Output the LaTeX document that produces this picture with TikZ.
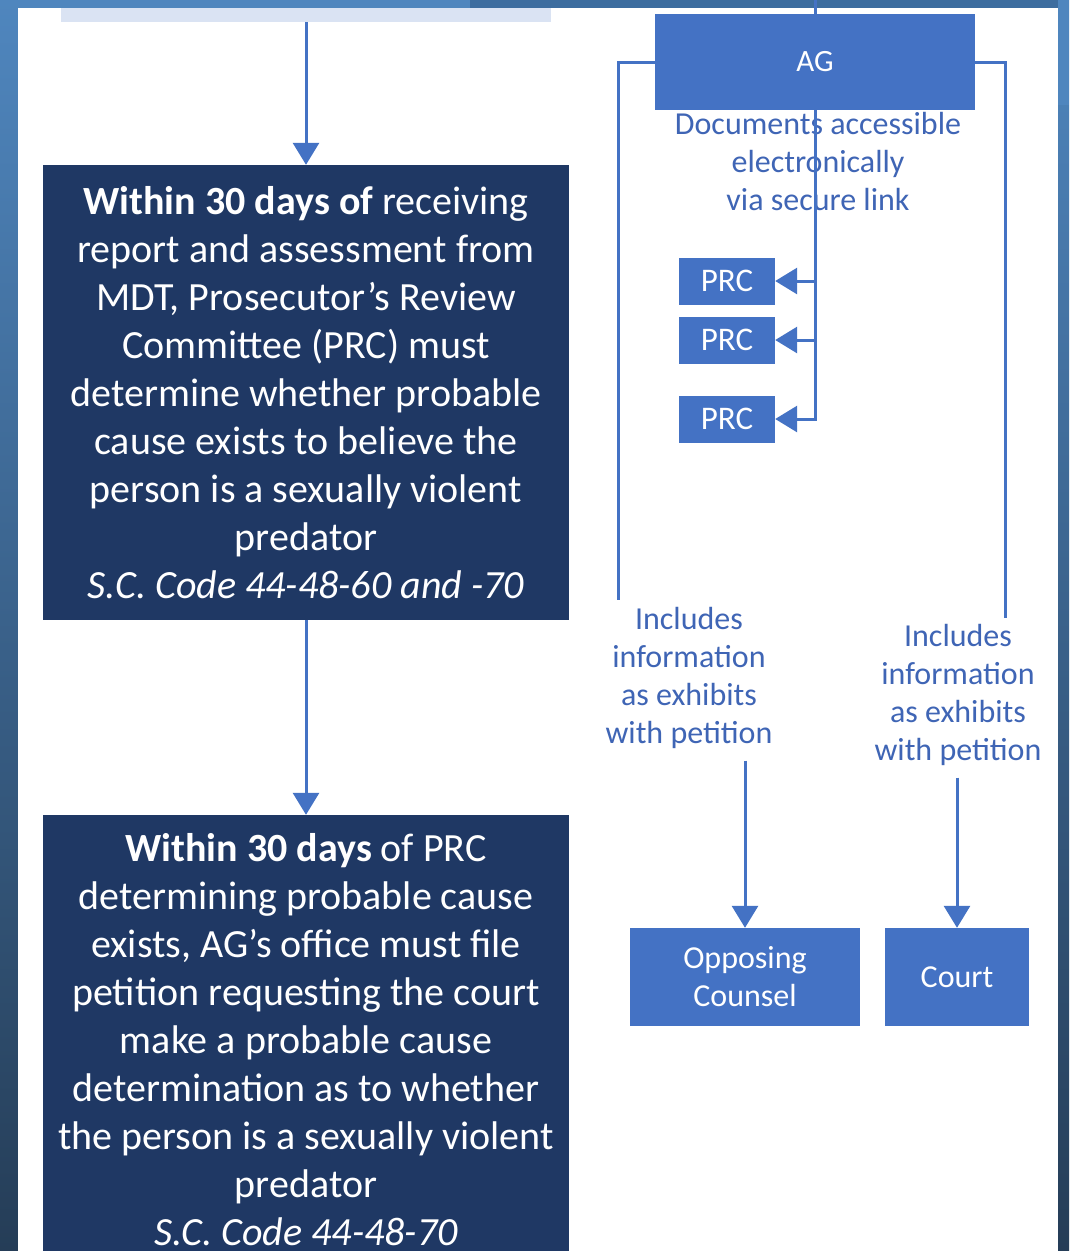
\documentclass[tikz,border=0pt]{standalone}
\usepackage{fontspec}
\setmainfont{Carlito}
\usetikzlibrary{arrows.meta}
\definecolor{navy}{HTML}{1F3864}
\definecolor{mid}{HTML}{4472C4}
\definecolor{pale}{HTML}{DAE3F3}
\definecolor{lbltxt}{HTML}{3F65B5}
\definecolor{edgetop}{HTML}{4F86BE}
\definecolor{edgebot}{HTML}{253D57}
\definecolor{topband}{HTML}{3D6D9F}
\tikzset{big/.style={font=\fontsize{40}{48}\selectfont}}
\tikzset{sm/.style={font=\fontsize{32}{38}\selectfont}}
\tikzset{navybox/.style={big,fill=navy,text=white,align=center,minimum width=526pt,inner sep=0pt}}
\tikzset{bluebox/.style={sm,fill=mid,text=white,align=center,inner sep=0pt}}
\tikzset{lbl/.style={sm,text=lbltxt,align=center,inner sep=0pt,outer sep=12pt}}
\tikzset{wire/.style={draw=mid,line width=3pt}}
\tikzset{flow/.style={wire,-{Triangle[width=26pt,length=22pt]}}}

\begin{document}
\begin{tikzpicture}[x=1pt,y=-1pt]
  \useasboundingbox (0,0) rectangle (1069,1251);
  % frame of the slide
  \shade[top color=edgetop,bottom color=edgebot] (0,0) rectangle (1069,1251);
  \fill[white] (18,8) rectangle (1058,1251);
  \fill[topband] (470,0) rectangle (1058,8);
  \fill[edgetop] (1058,0) rectangle (1069,105);

  % left column
  \node[fill=pale,minimum width=490pt,minimum height=14pt,inner sep=0pt] (intake) at (306,15) {};
  \node[navybox,minimum height=455pt] (review) at (306,392.5)
    {\textbf{Within 30 days of} receiving\\report and assessment from\\MDT, Prosecutor's Review\\Committee (PRC) must\\determine whether probable\\cause exists to believe the\\person is a sexually violent\\predator\\\textit{S.C. Code 44-48-60 and -70}};
  \node[navybox,minimum height=450pt] (petition) at (306,1040)
    {\textbf{Within 30 days} of PRC\\determining probable cause\\exists, AG's office must file\\petition requesting the court\\make a probable cause\\determination as to whether\\the person is a sexually violent\\predator\\\textit{S.C. Code 44-48-70}};
  \draw[flow] (intake.south) -- (review.north);
  \draw[flow] (review.south) -- (petition.north);

  % right column
  \node[bluebox,font=\fontsize{31}{36}\selectfont,minimum width=320pt,minimum height=96pt] (ag) at (815,62) {AG};
  \node[lbl] (docs) at (818,162) {Documents accessible\\electronically\\via secure link};
  \node[bluebox,font=\fontsize{33}{36}\selectfont,minimum width=96pt,minimum height=47pt] (prc1) at (727,281) {PRC};
  \node[bluebox,font=\fontsize{33}{36}\selectfont,minimum width=96pt,minimum height=47pt] (prc2) at (727,340) {PRC};
  \node[bluebox,font=\fontsize{33}{36}\selectfont,minimum width=96pt,minimum height=47pt] (prc3) at (727,419) {PRC};
  \node[lbl] (linc) at (689,678) {Includes\\information\\as exhibits\\with petition};
  \node[lbl] (rinc) at (958,695) {Includes\\information\\as exhibits\\with petition};
  \node[bluebox,minimum width=230pt,minimum height=98pt] (opp) at (745,977) {Opposing\\Counsel};
  \node[bluebox,minimum width=144pt,minimum height=98pt] (court) at (957,977) {Court};

  \coordinate (agin) at (815,0);
  \coordinate (ldrop) at (618,600);
  \coordinate (rdrop) at (1005,618);
  \draw[wire] (agin) -- (ag.north);
  \draw[wire] (ag.west) -| (ldrop);
  \draw[wire] (ag.east) -| (rdrop);
  \draw[flow] (ag.south) |- (prc3.east);
  \draw[flow] (ag.south |- prc1.east) -- (prc1.east);
  \draw[flow] (ag.south |- prc2.east) -- (prc2.east);
  \draw[flow] (linc.south -| opp.north) -- (opp.north);
  \draw[flow] (rinc.south -| court.north) -- (court.north);
\end{tikzpicture}
\end{document}
